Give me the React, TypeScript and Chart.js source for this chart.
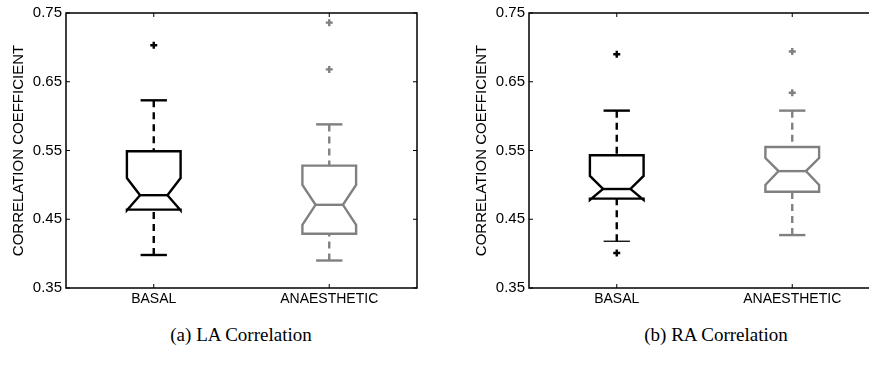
import React, { useEffect, useRef } from 'react';
import { Chart, registerables } from 'chart.js';

Chart.register(...registerables);

// ---------- data ----------
const categories = ['BASAL', 'ANAESTHETIC'];
const yTickValues = [0.35, 0.45, 0.55, 0.65, 0.75];
const yAxisTitle = 'CORRELATION COEFFICIENT';
const captions = ['(a) LA Correlation', '(b) RA Correlation'];

// (a) LA correlation, one entry per category
const laLowerWhisker = [0.398, 0.39];
const laQ1 = [0.464, 0.429];
const laNotchLow = [0.463, 0.442];
const laMedian = [0.485, 0.471];
const laNotchHigh = [0.51, 0.5];
const laQ3 = [0.549, 0.528];
const laUpperWhisker = [0.623, 0.588];
const laOutliersBasal = [0.703];
const laOutliersAnaesthetic = [0.736, 0.668];

// (b) RA correlation
const raLowerWhisker = [0.418, 0.427];
const raQ1 = [0.48, 0.49];
const raNotchLow = [0.478, 0.5];
const raMedian = [0.494, 0.52];
const raNotchHigh = [0.513, 0.539];
const raQ3 = [0.543, 0.555];
const raUpperWhisker = [0.608, 0.608];
const raOutliersBasal = [0.69, 0.401];
const raOutliersAnaesthetic = [0.694, 0.634];

const boxColors = ['#000000', '#808080'];
const FONT = '"Liberation Sans", Arial, Helvetica, sans-serif';

type Stats = {
  lo: number[]; q1: number[]; nlo: number[]; med: number[]; nhi: number[]; q3: number[]; hi: number[];
};

function makeBoxPlugin(stats: Stats, lowerCapWidths: number[]) {
  return {
    id: 'notchedBoxes',
    beforeDatasetsDraw(chart: any) {
      const { ctx, chartArea: a, scales } = chart;
      const xs = scales.x;
      const ys = scales.y;
      const line = (x1: number, y1: number, x2: number, y2: number) => {
        ctx.beginPath();
        ctx.moveTo(x1, y1);
        ctx.lineTo(x2, y2);
        ctx.stroke();
      };
      ctx.save();
      // frame
      ctx.strokeStyle = '#000';
      ctx.lineWidth = 1.5;
      ctx.setLineDash([]);
      ctx.strokeRect(a.left, a.top, a.right - a.left, a.bottom - a.top);
      // inward ticks
      ctx.lineWidth = 1;
      yTickValues.forEach((v) => {
        const py = ys.getPixelForValue(v);
        line(a.left, py, a.left + 4, py);
        line(a.right, py, a.right - 4, py);
      });
      categories.forEach((_, i) => {
        const px = xs.getPixelForValue(i);
        line(px, a.bottom, px, a.bottom - 4);
        line(px, a.top, px, a.top + 4);
      });
      // boxes
      const unit = xs.getPixelForValue(1) - xs.getPixelForValue(0);
      const bw = 0.153 * unit;
      const nw = 0.078 * unit;
      const cw = 0.075 * unit;
      categories.forEach((_, i) => {
        const cx = xs.getPixelForValue(i);
        const Y = (v: number) => ys.getPixelForValue(v);
        ctx.strokeStyle = boxColors[i];
        ctx.lineWidth = 2.4;
        // whiskers (dashed)
        ctx.setLineDash([7, 5]);
        line(cx, Y(stats.hi[i]), cx, Y(stats.q3[i]));
        line(cx, Y(stats.lo[i]), cx, Y(stats.q1[i]));
        ctx.setLineDash([]);
        // caps
        line(cx - cw, Y(stats.hi[i]), cx + cw, Y(stats.hi[i]));
        ctx.lineWidth = lowerCapWidths[i];
        line(cx - cw, Y(stats.lo[i]), cx + cw, Y(stats.lo[i]));
        ctx.lineWidth = 2.4;
        // notched box
        ctx.lineJoin = 'miter';
        ctx.beginPath();
        ctx.moveTo(cx - bw, Y(stats.q1[i]));
        ctx.lineTo(cx - bw, Y(stats.nlo[i]));
        ctx.lineTo(cx - nw, Y(stats.med[i]));
        ctx.lineTo(cx - bw, Y(stats.nhi[i]));
        ctx.lineTo(cx - bw, Y(stats.q3[i]));
        ctx.lineTo(cx + bw, Y(stats.q3[i]));
        ctx.lineTo(cx + bw, Y(stats.nhi[i]));
        ctx.lineTo(cx + nw, Y(stats.med[i]));
        ctx.lineTo(cx + bw, Y(stats.nlo[i]));
        ctx.lineTo(cx + bw, Y(stats.q1[i]));
        ctx.closePath();
        ctx.stroke();
        // median
        line(cx - nw, Y(stats.med[i]), cx + nw, Y(stats.med[i]));
      });
      ctx.restore();
    },
  };
}

function outlierDataset(values: number[], cat: string, color: string) {
  return {
    type: 'line',
    data: values.map((v) => ({ x: cat, y: v })),
    showLine: false,
    pointStyle: 'cross',
    pointRadius: 3.5,
    pointBorderWidth: 2.4,
    borderColor: color,
    backgroundColor: color,
    pointBorderColor: color,
  };
}

const CANVAS_W = 431;
const CANVAS_H = 310;

function Panel({ stats, outliers, left, lowerCapWidths }: { stats: Stats; outliers: number[][]; left: number; lowerCapWidths: number[] }) {
  const ref = useRef<HTMLCanvasElement>(null);
  useEffect(() => {
    if (!ref.current) return;
    const chart = new Chart(ref.current, {
      type: 'line',
      data: {
        labels: categories,
        datasets: categories.map((c, i) => outlierDataset(outliers[i], c, boxColors[i])) as any,
      },
      options: {
        animation: false,
        responsive: false,
        maintainAspectRatio: false,
        devicePixelRatio: 1,
        layout: { padding: { top: 11, right: 14, left: 0, bottom: 0 } },
        plugins: { legend: { display: false }, tooltip: { enabled: false } },
        scales: {
          x: {
            type: 'category',
            offset: true,
            grid: { display: false, drawTicks: false },
            border: { display: false },
            ticks: { padding: 3, color: '#000', maxRotation: 0, autoSkip: false, font: { family: FONT, size: 14 } },
            afterFit: (s: any) => { s.height = 22; },
          },
          y: {
            type: 'linear',
            min: 0.35,
            max: 0.75,
            grid: { display: false, drawTicks: false },
            border: { display: false },
            afterBuildTicks: (s: any) => { s.ticks = yTickValues.map((v) => ({ value: v })); },
            afterFit: (s: any) => { s.width = 66; },
            ticks: {
              padding: 4,
              color: '#000',
              font: { family: FONT, size: 15 },
              callback: (v: any) => Number(v).toFixed(2),
            },
            title: {
              display: true,
              text: yAxisTitle,
              color: '#000',
              font: { family: FONT, size: 15 },
              padding: { top: 10, bottom: 0 },
            },
          },
        },
      } as any,
      plugins: [makeBoxPlugin(stats, lowerCapWidths)],
    });
    return () => chart.destroy();
  }, []);
  return (
    <canvas
      ref={ref}
      width={CANVAS_W}
      height={CANVAS_H}
      style={{ position: 'absolute', left, top: 0, width: CANVAS_W, height: CANVAS_H }}
    />
  );
}

export default function App() {
  const laStats: Stats = {
    lo: laLowerWhisker, q1: laQ1, nlo: laNotchLow, med: laMedian, nhi: laNotchHigh, q3: laQ3, hi: laUpperWhisker,
  };
  const raStats: Stats = {
    lo: raLowerWhisker, q1: raQ1, nlo: raNotchLow, med: raMedian, nhi: raNotchHigh, q3: raQ3, hi: raUpperWhisker,
  };
  const capStyle = (center: number): React.CSSProperties => ({
    position: 'absolute',
    left: center - 200,
    width: 400,
    top: 323,
    textAlign: 'center',
    fontFamily: '"Liberation Serif", "Times New Roman", serif',
    fontSize: 19,
    lineHeight: '24px',
    color: '#000',
    whiteSpace: 'nowrap',
  });
  return (
    <div style={{ position: 'absolute', left: 0, top: 0, width: 869, height: 367, overflow: 'hidden', background: '#fff' }}>
      <Panel stats={laStats} outliers={[laOutliersBasal, laOutliersAnaesthetic]} left={0} lowerCapWidths={[2.4, 2.4]} />
      <Panel stats={raStats} outliers={[raOutliersBasal, raOutliersAnaesthetic]} left={463} lowerCapWidths={[1.3, 2.4]} />
      <div style={capStyle(241)}>{captions[0]}</div>
      <div style={capStyle(716)}>{captions[1]}</div>
    </div>
  );
}
